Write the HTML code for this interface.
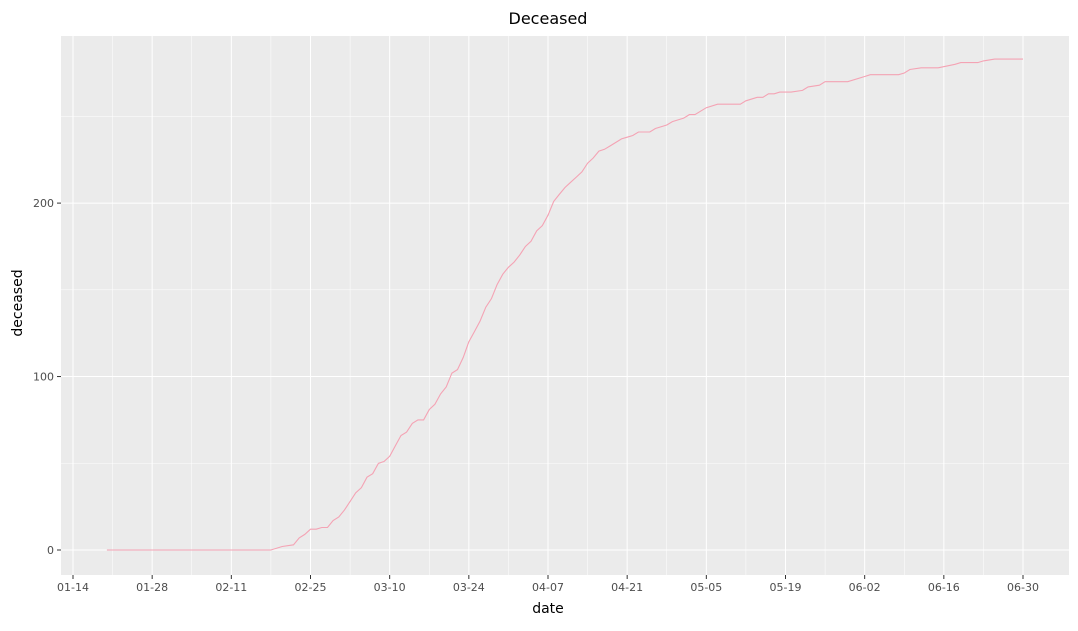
<!DOCTYPE html>
<html><head><meta charset="utf-8"><style>
body{margin:0;background:#fff;font-family:"Liberation Sans","DejaVu Sans",sans-serif}
</style></head><body>
<svg id="chart" width="1078" height="626" xmlns="http://www.w3.org/2000/svg" font-family="DejaVu Sans, Liberation Sans, sans-serif"></svg>
<script>
const dayOffsets=[6,35,37,39,40,41,42,43,44,45,46,47,48,49,50,51,52,53,54,55,56,57,58,59,60,61,62,63,64,65,66,67,68,69,70,71,72,73,74,75,76,77,78,79,80,81,82,83,84,85,86,87,88,89,90,91,92,93,94,95,96,97,98,99,100,102,103,105,106,108,109,110,112,114,118,119,121,122,123,124,125,127,129,130,132,133,137,140,141,146,147,148,150,153,156,157,160,161,163,168];
const deceased=[0,0,2,3,7,9,12,12,13,13,17,19,23,28,33,36,42,44,50,51,54,60,66,68,73,75,75,81,84,90,94,102,104,111,120,126,132,140,145,153,159,163,166,170,175,178,184,187,193,201,205,209,212,215,218,223,226,230,231,233,235,237,238,239,241,241,243,245,247,249,251,251,255,257,257,259,261,261,263,263,264,264,265,267,268,270,270,273,274,274,275,277,278,278,280,281,281,282,283,283];
const xTickLabels=["01-14","01-28","02-11","02-25","03-10","03-24","04-07","04-21","05-05","05-19","06-02","06-16","06-30"];
const yTicks=[0,100,200];
const yMinor=[50,150,250];

const svg=document.getElementById('chart');const NS='http://www.w3.org/2000/svg';
const L=61,R=1069,T=36,B=575;
const x=d=>73+d*(950/168);
const y=v=>550-v*1.7345;
function mk(t,a,p){const e=document.createElementNS(NS,t);for(const k in a)e.setAttribute(k,a[k]);(p||svg).appendChild(e);return e;}
const bg=mk('rect',{x:L,y:T,width:R-L,height:B-T,fill:'#ebebeb'});


const grid=mk('g',{});


yMinor.forEach(v=>mk('line',{x1:L,x2:R,y1:y(v),y2:y(v),stroke:'#fff','stroke-width':0.5},grid));
xTickLabels.forEach((s,i)=>{if(i<12){const xm=x(i*14+7);mk('line',{x1:xm,x2:xm,y1:T,y2:B,stroke:'#fff','stroke-width':0.5},grid);}});
yTicks.forEach(v=>{mk('line',{x1:L,x2:R,y1:y(v),y2:y(v),stroke:'#fff','stroke-width':1},grid);
 mk('line',{x1:L-4,x2:L,y1:y(v),y2:y(v),stroke:'#333','stroke-width':1});
 const t=mk('text',{x:L-7,y:y(v)+4,'text-anchor':'end','font-size':11,fill:'#4d4d4d'});t.textContent=v;
 
 });
xTickLabels.forEach((s,i)=>{const xx=x(i*14);
 mk('line',{x1:xx,x2:xx,y1:T,y2:B,stroke:'#fff','stroke-width':1},grid);
 mk('line',{x1:xx,x2:xx,y1:B,y2:B+4,stroke:'#333','stroke-width':1});
 const t=mk('text',{x:xx,y:B+16,'text-anchor':'middle','font-size':11,fill:'#4d4d4d'});t.textContent=s;
 
 });
const pts=dayOffsets.map((d,i)=>x(d).toFixed(1)+','+y(deceased[i]).toFixed(1)).join(' ');
const line=mk('polyline',{points:pts,fill:'none',stroke:'#f4a3b4','stroke-width':1.1});


const title=mk('text',{x:548,y:24,'text-anchor':'middle','font-size':16,fill:'#000'});title.textContent='Deceased';


const xt=mk('text',{x:548,y:613,'text-anchor':'middle','font-size':14,fill:'#000'});xt.textContent='date';


const yt=mk('text',{x:22,y:303,'text-anchor':'middle','font-size':14,fill:'#000',transform:'rotate(-90 22 303)'});yt.textContent='deceased';


</script>
</body></html>
